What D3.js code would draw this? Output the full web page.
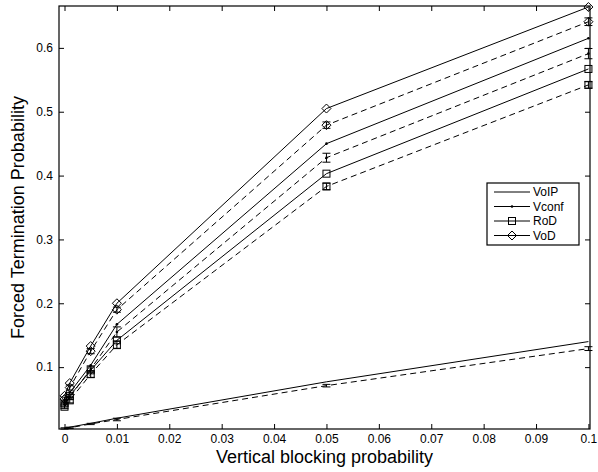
<!DOCTYPE html>
<html>
<head>
<meta charset="utf-8">
<script src="https://cdn.jsdelivr.net/npm/d3@7"></script>
<style>
  body { margin: 0; background: #fff; }
  svg { display: block; font-family: 'Liberation Sans', Arial, sans-serif; }
</style>
</head>
<body>
<div id="chart"></div>
<script>
// vertical blocking probabilities (x values)
const blockingProb = [0, 0.001, 0.005, 0.01, 0.05, 0.1];

// analysis (solid) and simulation (dashed, with error bars)
const voipAnalysis = [0.004, 0.006, 0.012, 0.020, 0.077, 0.140];
const voipSim = [0.004, 0.005, 0.011, 0.018, 0.071, 0.129];
const voipErr = [0.001, 0.001, 0.001, 0.002, 0.002, 0.003];

const vconfAnalysis = [0.047, 0.060, 0.103, 0.167, 0.450, 0.615];
const vconfSim = [0.042, 0.053, 0.097, 0.155, 0.428, 0.591];
const vconfErr = [0.003, 0.004, 0.005, 0.008, 0.007, 0.008];

const rodAnalysis = [0.043, 0.055, 0.095, 0.142, 0.403, 0.567];
const rodSim = [0.038, 0.048, 0.089, 0.135, 0.383, 0.542];
const rodErr = [0.003, 0.004, 0.005, 0.006, 0.005, 0.005];

const vodAnalysis = [0.055, 0.075, 0.133, 0.200, 0.505, 0.664];
const vodSim = [0.050, 0.068, 0.125, 0.190, 0.479, 0.641];
const vodErr = [0.003, 0.004, 0.004, 0.004, 0.005, 0.006];

const legendLabels = ['VoIP', 'Vconf', 'RoD', 'VoD'];
const xTicks = [0, 0.01, 0.02, 0.03, 0.04, 0.05, 0.06, 0.07, 0.08, 0.09, 0.1];
const yTicks = [0.1, 0.2, 0.3, 0.4, 0.5, 0.6];

const width = 598;
const height = 472;
const plot = { left: 59, right: 590, top: 6, bottom: 429 };

let x = d3.scaleLinear()
  .domain([-0.00105, 0.1003])
  .range([plot.left, plot.right]);

let y = d3.scaleLinear()
  .domain([0.0031, 0.6656])
  .range([plot.bottom, plot.top]);

let svg = d3.select('#chart')
  .append('svg')
  .attr('width', width)
  .attr('height', height);

function tickText (d) {
  return String(+d.toFixed(2));
}

// axes, MATLAB style: ticks inward on all four sides
svg.append('g')
  .attr('class', 'x-axis')
  .attr('transform', 'translate(0,' + plot.bottom + ')')
  .call(d3.axisBottom(x).tickValues(xTicks).tickFormat(tickText)
    .tickSizeInner(-5).tickSizeOuter(0).tickPadding(5));

svg.append('g')
  .attr('transform', 'translate(0,' + plot.top + ')')
  .call(d3.axisTop(x).tickValues(xTicks).tickFormat('')
    .tickSizeInner(-5).tickSizeOuter(0));

svg.append('g')
  .attr('class', 'y-axis')
  .attr('transform', 'translate(' + plot.left + ',0)')
  .call(d3.axisLeft(y).tickValues(yTicks).tickFormat(tickText)
    .tickSizeInner(-5).tickSizeOuter(0).tickPadding(6));

svg.append('g')
  .attr('transform', 'translate(' + plot.right + ',0)')
  .call(d3.axisRight(y).tickValues(yTicks).tickFormat('')
    .tickSizeInner(-5).tickSizeOuter(0));

svg.selectAll('.domain').remove();
svg.selectAll('.tick line').attr('stroke', '#000');
svg.selectAll('.tick text')
  .attr('fill', '#000')
  .style('font-size', '12px');

svg.append('rect')
  .attr('x', plot.left)
  .attr('y', plot.top)
  .attr('width', plot.right - plot.left)
  .attr('height', plot.bottom - plot.top)
  .attr('fill', 'none')
  .attr('stroke', '#000')
  .attr('stroke-width', 1.2);

svg.append('text')
  .attr('x', (plot.left + plot.right) / 2)
  .attr('y', 463)
  .attr('text-anchor', 'middle')
  .style('font-size', '18px')
  .text('Vertical blocking probability');

svg.append('text')
  .attr('transform', 'translate(24,' + (plot.top + plot.bottom) / 2 + ') rotate(-90)')
  .attr('text-anchor', 'middle')
  .style('font-size', '18px')
  .text('Forced Termination Probability');

// marker drawing
function drawMarker (g, type, cx, cy) {
  if (type === 'square') {
    g.append('rect')
      .attr('x', cx - 3.5).attr('y', cy - 3.5)
      .attr('width', 7).attr('height', 7)
      .attr('fill', 'none').attr('stroke', '#000');
  } else if (type === 'diamond') {
    g.append('path')
      .attr('d', 'M' + cx + ',' + (cy - 4.5) + 'L' + (cx + 4.5) + ',' + cy +
        'L' + cx + ',' + (cy + 4.5) + 'L' + (cx - 4.5) + ',' + cy + 'Z')
      .attr('fill', 'none').attr('stroke', '#000');
  } else if (type === 'dot') {
    g.append('circle')
      .attr('cx', cx).attr('cy', cy).attr('r', 1.3)
      .attr('fill', '#000');
  }
}

let line = d3.line()
  .x(function (d, i) { return x(blockingProb[i]); })
  .y(function (d) { return y(d); });

let series = [
  { analysis: voipAnalysis, sim: voipSim, err: voipErr, marker: 'none' },
  { analysis: vconfAnalysis, sim: vconfSim, err: vconfErr, marker: 'dot' },
  { analysis: rodAnalysis, sim: rodSim, err: rodErr, marker: 'square' },
  { analysis: vodAnalysis, sim: vodSim, err: vodErr, marker: 'diamond' }
];

let plotArea = svg.append('g').attr('class', 'plot-area');

series.forEach(function (s) {
  let g = plotArea.append('g');

  g.append('path')
    .attr('d', line(s.analysis))
    .attr('fill', 'none')
    .attr('stroke', '#000')
    .attr('stroke-width', 1);

  g.append('path')
    .attr('d', line(s.sim))
    .attr('fill', 'none')
    .attr('stroke', '#000')
    .attr('stroke-width', 1)
    .attr('stroke-dasharray', '6,4');

  // error bars on the simulation results
  s.sim.forEach(function (v, i) {
    let cx = x(blockingProb[i]);
    let y0 = y(v - s.err[i]);
    let y1 = y(v + s.err[i]);
    g.append('line')
      .attr('x1', cx).attr('x2', cx).attr('y1', y0).attr('y2', y1)
      .attr('stroke', '#000');
    [y0, y1].forEach(function (yy) {
      g.append('line')
        .attr('x1', cx - 4).attr('x2', cx + 4).attr('y1', yy).attr('y2', yy)
        .attr('stroke', '#000');
    });
  });

  s.analysis.forEach(function (v, i) {
    drawMarker(g, s.marker, x(blockingProb[i]), y(v));
  });
  s.sim.forEach(function (v, i) {
    drawMarker(g, s.marker, x(blockingProb[i]), y(v));
  });
});

// legend
let legendBox = { x: 487, y: 183, w: 92, h: 62 };
let legend = svg.append('g').attr('class', 'legend');

legend.append('rect')
  .attr('x', legendBox.x)
  .attr('y', legendBox.y)
  .attr('width', legendBox.w)
  .attr('height', legendBox.h)
  .attr('fill', '#fff')
  .attr('stroke', '#000')
  .attr('stroke-width', 1.2);

legendLabels.forEach(function (label, i) {
  let ly = legendBox.y + 9 + i * 14.5;
  legend.append('line')
    .attr('x1', legendBox.x + 7).attr('x2', legendBox.x + 43)
    .attr('y1', ly).attr('y2', ly)
    .attr('stroke', '#000');
  drawMarker(legend, series[i].marker, legendBox.x + 25, ly);
  legend.append('text')
    .attr('x', legendBox.x + 46)
    .attr('y', ly + 4)
    .style('font-size', '12px')
    .text(label);
});
</script>
</body>
</html>
